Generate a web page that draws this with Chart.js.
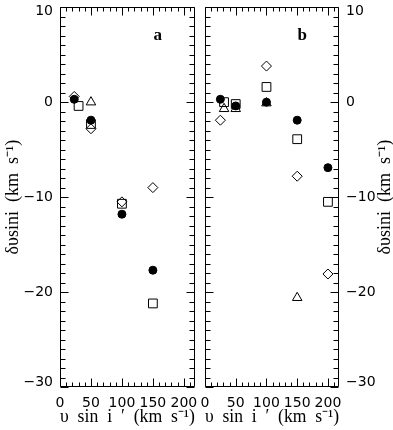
<!DOCTYPE html>
<html><head><meta charset="utf-8">
<script src="https://cdn.jsdelivr.net/npm/chart.js@4/dist/chart.umd.min.js"></script>
<style>
html,body{margin:0;padding:0;background:#fff;}
#wrap{position:relative;width:393px;height:430px;background:#fff;}
canvas{position:absolute;left:0;top:0;}
</style></head><body>
<div id="wrap"><canvas id="ca" width="393" height="430"></canvas><canvas id="cb" width="393" height="430"></canvas></div>
<script>
// ---- tick labels ----
const xTickValues = [0, 50, 100, 150, 200];
const yTickValues = [-30, -20, -10, 0, 10];
const xTitle = 'υ  sin  i  ′  (km  s⁻¹)';
const yTitle = 'δυsini  (km  s⁻¹)';

// ---- panel a ----
const aCircleX   = [23, 50, 100, 150];
const aCircleY   = [0.3, -1.9, -11.8, -17.7];
const aSquareX   = [30, 50, 100, 150];
const aSquareY   = [-0.4, -2.3, -10.7, -21.2];
const aTriangleX = [50];
const aTriangleY = [0.0];
const aDiamondX  = [23, 50, 100, 150];
const aDiamondY  = [0.6, -2.8, -10.5, -9.0];

// ---- panel b ----
const bCircleX   = [25, 50, 100, 150, 200];
const bCircleY   = [0.3, -0.4, 0.0, -1.9, -6.9];
const bSquareX   = [31, 50, 100, 150, 200];
const bSquareY   = [0.0, -0.2, 1.6, -3.9, -10.5];
const bTriangleX = [31, 50, 100, 150];
const bTriangleY = [-0.7, -0.7, -0.1, -20.6];
const bDiamondX  = [25, 100, 150, 200];
const bDiamondY  = [-1.9, 3.8, -7.8, -18.1];

const pts = (xs, ys) => xs.map((x, i) => ({x, y: ys[i]}));
const clear = 'rgba(0,0,0,0)';
function sets(cx, cy, sx, sy, tx, ty, dx, dy) {
  return [
    {data: pts(cx, cy), pointStyle: 'circle', pointRadius: 4, backgroundColor: '#000', borderColor: '#000', borderWidth: 1},
    {data: pts(sx, sy), pointStyle: 'rect', pointRadius: 6.2, backgroundColor: clear, borderColor: '#000', borderWidth: 1},
    {data: pts(tx, ty), pointStyle: 'triangle', pointRadius: 5.5, backgroundColor: clear, borderColor: '#000', borderWidth: 1},
    {data: pts(dx, dy), pointStyle: 'rectRot', pointRadius: 5, backgroundColor: clear, borderColor: '#000', borderWidth: 1}
  ];
}

const tickFont = {family: 'DejaVu Sans', size: 14, lineHeight: 0.6};
const xTickFont = {family: 'DejaVu Sans', size: 14, lineHeight: 1.2};
const titleFont = {family: 'Liberation Serif', size: 18, lineHeight: 1.2};
const fmt = v => String(v).replace('-', '−');

const framePlugin = {
  id: 'frame',
  afterDatasetsDraw(chart, args, o) {
    const {ctx, chartArea: a, scales: {x, y}} = chart;
    ctx.save();
    ctx.strokeStyle = '#000';
    ctx.lineWidth = 1;
    const L = Math.round(a.left) + 0.5, R = Math.round(a.right) - 0.5;
    const T = Math.round(a.top) + 0.5, B = Math.round(a.bottom) - 0.5;
    ctx.beginPath();
    ctx.rect(L, T, R - L, B - T);
    for (let v = x.min; v <= x.max; v += 10) {
      const p = Math.round(x.getPixelForValue(v)) + 0.5;
      const len = v % 50 === 0 ? 8 : 4;
      ctx.moveTo(p, B); ctx.lineTo(p, B - len);
      ctx.moveTo(p, T); ctx.lineTo(p, T + len);
    }
    for (let v = y.min; v <= y.max; v += 1) {
      const p = Math.round(y.getPixelForValue(v)) + 0.5;
      const len = v % 10 === 0 ? 8 : 5;
      ctx.moveTo(L, p); ctx.lineTo(L + len, p);
      ctx.moveTo(R, p); ctx.lineTo(R - len, p);
    }
    ctx.stroke();
    // panel letter
    ctx.fillStyle = '#000';
    ctx.font = 'bold 17px "Liberation Serif"';
    ctx.textAlign = 'center';
    ctx.textBaseline = 'middle';
    ctx.fillText(o.letter, x.getPixelForValue(o.lx), y.getPixelForValue(o.ly));
    if (o.rightTitle) {
      ctx.font = '18px "Liberation Serif"';
      ctx.translate(o.rightTitleX, (a.top + a.bottom) / 2);
      ctx.rotate(-Math.PI / 2);
      ctx.fillText(yTitle, 0, 0);
    }
    ctx.restore();
  }
};

function makePanel(id, datasets, side, letter) {
  const left = side === 'left';
  return new Chart(document.getElementById(id), {
    type: 'scatter',
    data: {datasets},
    plugins: [framePlugin],
    options: {
      responsive: false, animation: false, devicePixelRatio: 1,
      layout: {padding: left ? {top: 2, right: 198, bottom: 0, left: 0} : {top: 2, right: 0, bottom: 0, left: 205}},
      plugins: {legend: {display: false}, tooltip: {enabled: false},
        frame: {letter, lx: 158, ly: 7.0, rightTitle: !left, rightTitleX: 385}},
      scales: {
        x: {
          type: 'linear', min: 0, max: 218,
          afterBuildTicks: s => { s.ticks = xTickValues.map(v => ({value: v})); },
          ticks: {font: xTickFont, color: '#000', padding: 8, maxRotation: 0, autoSkip: false, callback: v => fmt(v)},
          grid: {display: false, drawTicks: false},
          border: {display: false},
          title: {display: true, text: xTitle, font: titleFont, color: '#000', padding: {top: 0, bottom: 1.5}},
          afterFit: s => { s.height = 43; s.paddingLeft = 0; s.paddingRight = 0; }
        },
        y: {
          type: 'linear', min: -30, max: 10, position: side,
          afterBuildTicks: s => { s.ticks = yTickValues.map(v => ({value: v})); },
          ticks: {font: tickFont, color: '#000', padding: 7, autoSkip: false,
            callback: v => { const t = fmt(v); if (v === 10) return ['', t]; if (v === -30) return [t, '']; return t; }},
          grid: {display: false, drawTicks: false},
          border: {display: false},
          title: {display: left, text: yTitle, font: titleFont, color: '#000', padding: {top: 2, bottom: 0}},
          afterFit: s => { s.width = left ? 60 : 54; s.paddingTop = 0; s.paddingBottom = 0; }
        }
      }
    }
  });
}

makePanel('ca', sets(aCircleX, aCircleY, aSquareX, aSquareY, aTriangleX, aTriangleY, aDiamondX, aDiamondY), 'left', 'a');
makePanel('cb', sets(bCircleX, bCircleY, bSquareX, bSquareY, bTriangleX, bTriangleY, bDiamondX, bDiamondY), 'right', 'b');
</script>
</body></html>
